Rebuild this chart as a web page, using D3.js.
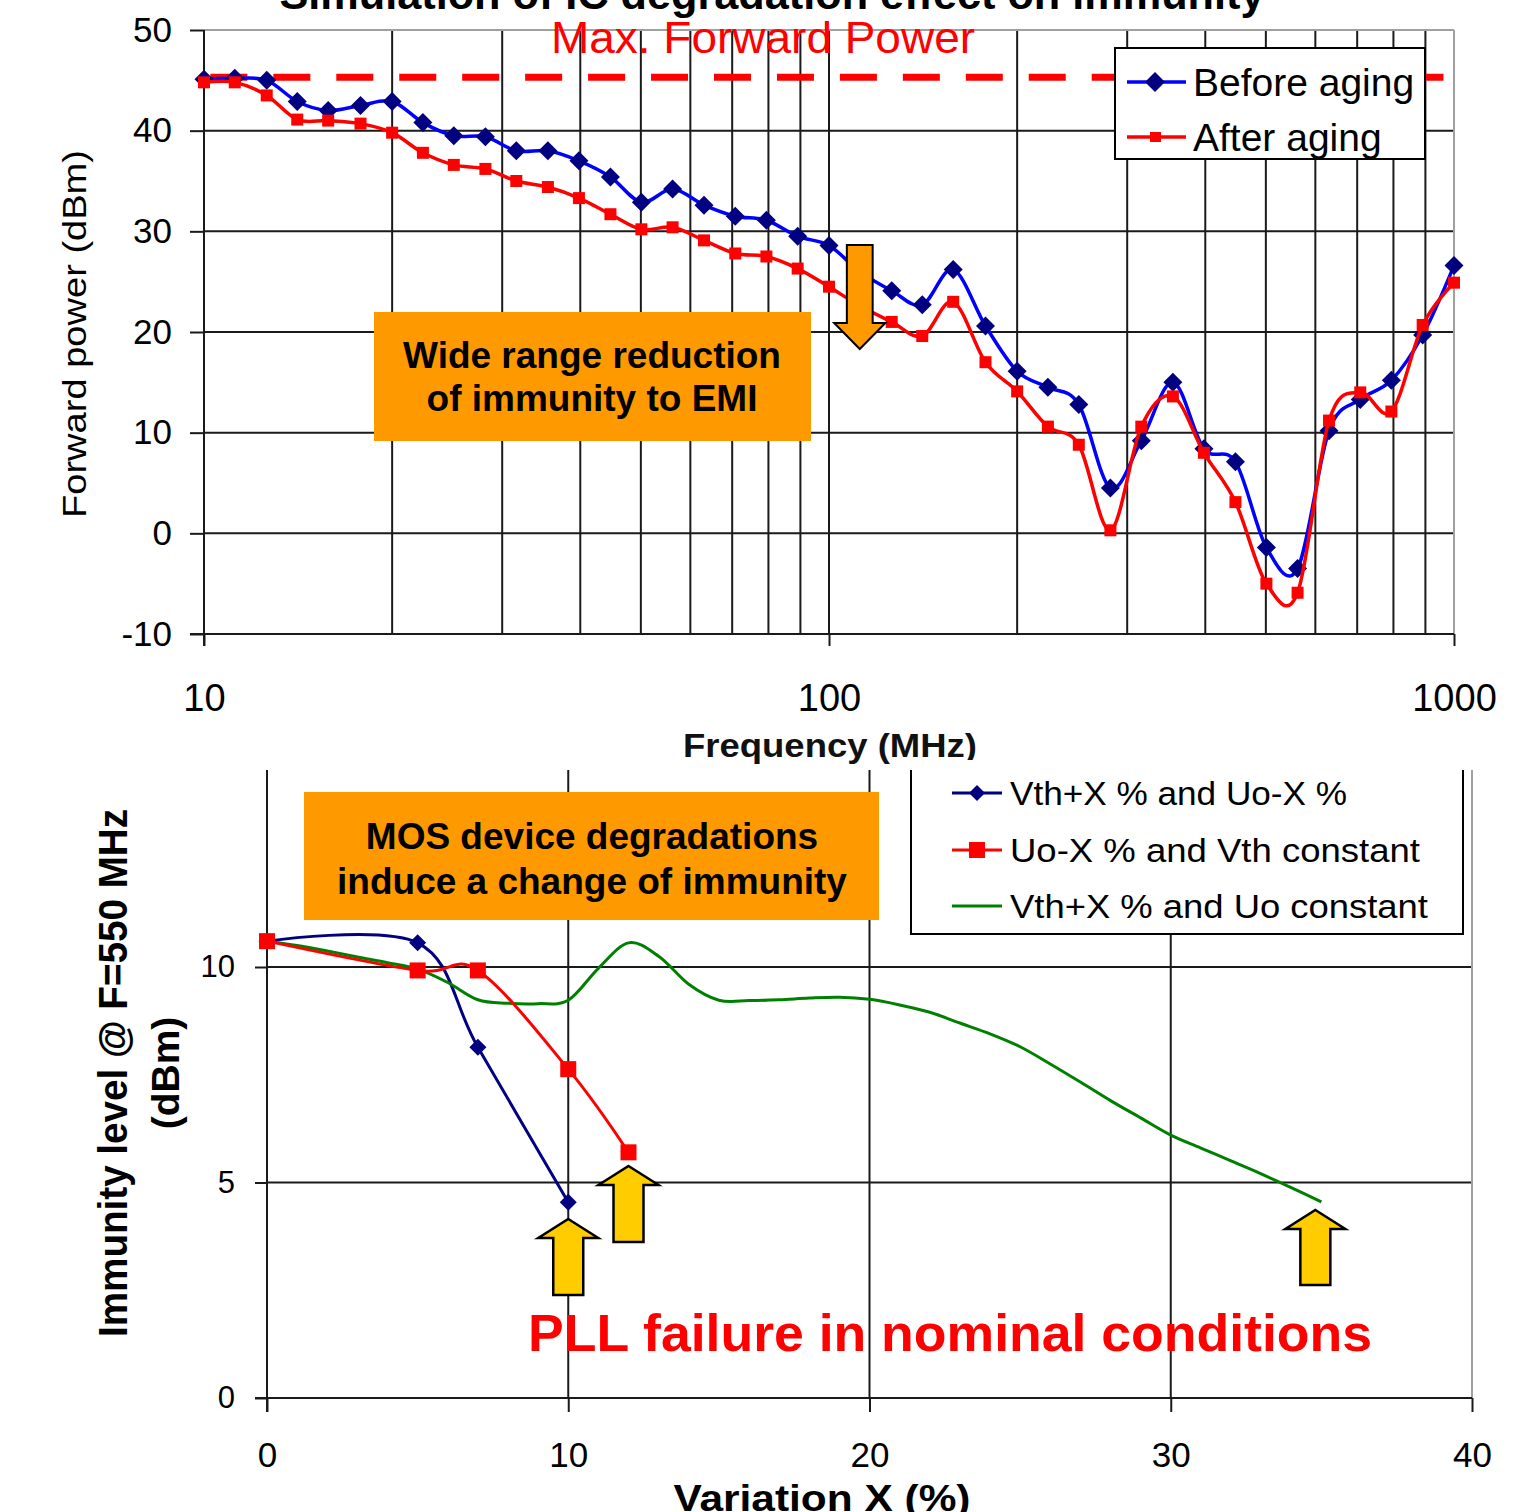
<!DOCTYPE html>
<html><head><meta charset="utf-8">
<script src="https://cdn.jsdelivr.net/npm/d3@7"></script>
<style>
body{margin:0;background:#fff}
svg{display:block}
text{font-family:"Liberation Sans",Arial,Helvetica,sans-serif}
</style>
</head><body>
<svg id="c" width="1533" height="1512"></svg>
<script>
// ---------- DATA: top chart ----------
const freqs = [10, 11.2, 12.6, 14.1, 15.8, 17.8, 20, 22.4, 25.1, 28.2, 31.6, 35.5, 39.8, 44.7, 50.1, 56.2, 63.1, 70.8, 79.4, 89.1,
  100, 112, 126, 141, 158, 178, 200, 224, 251, 282, 316, 355, 398, 447, 501, 562, 631, 708, 794, 891, 1000];
const beforeAging = [45.1, 45.2, 45.0, 42.9, 42.0, 42.5, 42.9, 40.8, 39.5, 39.4, 38.0, 38.0, 37.0, 35.4, 32.9, 34.2, 32.6, 31.5, 31.1, 29.5,
  28.6, 26.0, 24.1, 22.7, 26.2, 20.6, 16.1, 14.5, 12.8, 4.5, 9.2, 15.0, 8.4, 7.1, -1.4, -3.5, 10.2, 13.3, 15.2, 19.7, 26.6];
const afterAging = [44.8, 44.8, 43.5, 41.1, 41.0, 40.7, 39.8, 37.8, 36.6, 36.2, 35.0, 34.4, 33.3, 31.7, 30.2, 30.4, 29.1, 27.8, 27.5, 26.3,
  24.5, 22.6, 21.0, 19.6, 23.0, 17.0, 14.1, 10.6, 8.8, 0.3, 10.6, 13.6, 8.0, 3.1, -5.0, -5.9, 11.2, 14.0, 12.1, 20.7, 24.9];
const maxForwardPower = [45.3];
const topYTicks = [-10, 0, 10, 20, 30, 40, 50];
const topXTicks = [10, 100, 1000];
const topXGrid = [20, 30, 40, 50, 60, 70, 80, 90, 100, 200, 300, 400, 500, 600, 700, 800, 900];
const topSeriesNames = ["Before aging", "After aging"];

// ---------- DATA: bottom chart ----------
const xVthUo = [0, 5, 7, 10];
const yVthUo = [10.6, 10.56, 8.14, 4.54];
const xUo = [0, 5, 7, 10, 12];
const yUo = [10.6, 9.92, 9.92, 7.63, 5.7];
const xVth = [0, 1, 2, 3, 4, 5, 6, 7, 8, 9, 10, 11, 12, 13, 14, 15, 16, 17, 18, 19, 20, 21, 22, 23, 24, 25, 26, 27, 28, 29, 30, 31, 32, 33, 34, 35];
const yVth = [10.6, 10.5, 10.37, 10.23, 10.1, 9.95, 9.64, 9.24, 9.16, 9.15, 9.23, 9.97, 10.56, 10.25, 9.6, 9.23, 9.22, 9.24, 9.28, 9.3,
  9.25, 9.12, 8.95, 8.7, 8.45, 8.15, 7.75, 7.33, 6.9, 6.5, 6.1, 5.8, 5.5, 5.2, 4.88, 4.55];
const botXTicks = [0, 10, 20, 30, 40];
const botYTicks = [0, 5, 10];
const botSeriesNames = ["Vth+X% and Uo-X%", "Uo-X% and Vth constant", "Vth+X% and Uo constant"];
const failureX = [10, 12, 34.8];

// ---------- LAYOUT ----------
const svg = d3.select("#c");
const FONT = '"Liberation Sans",Arial,Helvetica,sans-serif';
const T = {l: 204, r: 1454, t: 30, b: 634};
const B = {l: 267, r: 1472, t: 770, b: 1398};

const xT = d3.scaleLog().domain([10, 1000]).range([T.l, T.r]);
const yT = d3.scaleLinear().domain([-10, 50]).range([T.b, T.t]);
const xB = d3.scaleLinear().domain([0, 40]).range([B.l, B.r]);
const yB = d3.scaleLinear().domain([0, 10]).range([B.b, 967]);

const smooth = d3.curveCardinal.tension(0);
const GRID = "#1a1a1a";
const diamond = r => `M0,${-r}L${r},0L0,${r}L${-r},0Z`;

// Title (cut off at the top)
svg.append("text").attr("x", 772).attr("y", 9).attr("text-anchor", "middle")
  .attr("font-size", 43).attr("font-weight", "bold").attr("fill", "#000")
  .attr("textLength", 985).attr("lengthAdjust", "spacingAndGlyphs")
  .text("Simulation of IC degradation effect on immunity");

// ====== TOP CHART ======
const gT = svg.append("g");
gT.selectAll("line.vg").data(topXGrid).join("line")
  .attr("x1", d => xT(d)).attr("x2", d => xT(d)).attr("y1", T.t).attr("y2", T.b)
  .attr("stroke", GRID).attr("stroke-width", 2);
gT.selectAll("line.hg").data(topYTicks.filter(d => d > -10 && d < 50)).join("line")
  .attr("x1", T.l).attr("x2", T.r).attr("y1", d => yT(d)).attr("y2", d => yT(d))
  .attr("stroke", GRID).attr("stroke-width", 2);
gT.append("line").attr("x1", T.l).attr("x2", T.r).attr("y1", T.t).attr("y2", T.t).attr("stroke", "#a0a0a0").attr("stroke-width", 2);
gT.append("line").attr("x1", T.r).attr("x2", T.r).attr("y1", T.t).attr("y2", T.b).attr("stroke", "#a0a0a0").attr("stroke-width", 2);

const axYT = gT.append("g").attr("transform", `translate(${T.l},0)`)
  .call(d3.axisLeft(yT).tickValues(topYTicks).tickSize(14).tickPadding(18).tickFormat(d => d < 0 ? "-" + Math.abs(d) : d));
const axXT = gT.append("g").attr("transform", `translate(0,${T.b})`)
  .call(d3.axisBottom(xT).tickValues(topXTicks).tickSize(12).tickPadding(38).tickFormat(d3.format("d")));
[axYT, axXT].forEach(a => {
  a.select(".domain").remove();
  a.selectAll(".tick line").attr("stroke", GRID).attr("stroke-width", 2);
  a.selectAll(".tick text").attr("fill", "#000").attr("font-family", FONT);
});
axYT.selectAll(".tick text").attr("font-size", 35);
axXT.selectAll(".tick text").attr("font-size", 38);
gT.append("line").attr("x1", T.l).attr("x2", T.l).attr("y1", T.t).attr("y2", T.b + 12).attr("stroke", GRID).attr("stroke-width", 2);
gT.append("line").attr("x1", T.l - 14).attr("x2", T.r).attr("y1", T.b).attr("y2", T.b).attr("stroke", GRID).attr("stroke-width", 2);

svg.append("text").attr("transform", "translate(86,334) rotate(-90)").attr("text-anchor", "middle")
  .attr("font-size", 34).attr("fill", "#000").attr("textLength", 368).attr("lengthAdjust", "spacingAndGlyphs")
  .text("Forward power (dBm)");
svg.append("text").attr("x", 830).attr("y", 757).attr("text-anchor", "middle")
  .attr("font-size", 33).attr("font-weight", "bold").attr("fill", "#111").attr("textLength", 294).attr("lengthAdjust", "spacingAndGlyphs")
  .text("Frequency (MHz)");

gT.selectAll("line.maxp").data(maxForwardPower).join("line")
  .attr("x1", 210.4).attr("x2", T.r).attr("y1", d => yT(d)).attr("y2", d => yT(d))
  .attr("stroke", "#ff0000").attr("stroke-width", 7).attr("stroke-dasharray", "37,25.95");
svg.append("text").attr("x", 763).attr("y", 53).attr("text-anchor", "middle")
  .attr("font-size", 45).attr("fill", "#ff0000").attr("textLength", 424).attr("lengthAdjust", "spacingAndGlyphs")
  .text("Max. Forward Power");

const lineT = vals => d3.line().x((d, i) => xT(freqs[i])).y(d => yT(d)).curve(smooth)(vals);
gT.append("path").attr("d", lineT(beforeAging)).attr("fill", "none").attr("stroke", "#0000ff").attr("stroke-width", 3.5);
gT.selectAll("path.bm").data(beforeAging).join("path").attr("class", "bm")
  .attr("transform", (d, i) => `translate(${xT(freqs[i])},${yT(d)})`).attr("d", diamond(9.5)).attr("fill", "#000080");
gT.append("path").attr("d", lineT(afterAging)).attr("fill", "none").attr("stroke", "#ff0000").attr("stroke-width", 3.5);
gT.selectAll("rect.am").data(afterAging).join("rect").attr("class", "am")
  .attr("x", (d, i) => xT(freqs[i]) - 6).attr("y", d => yT(d) - 6).attr("width", 12).attr("height", 12).attr("fill", "#ff0000");

// top legend
const lgT = svg.append("g");
lgT.append("rect").attr("x", 1115).attr("y", 48).attr("width", 310).attr("height", 111)
  .attr("fill", "#fff").attr("stroke", "#000").attr("stroke-width", 2);
const topLegY = [82, 137];
lgT.append("line").attr("x1", 1127).attr("x2", 1186).attr("y1", topLegY[0]).attr("y2", topLegY[0]).attr("stroke", "#0000ff").attr("stroke-width", 3.5);
lgT.append("path").attr("transform", `translate(1155,${topLegY[0]})`).attr("d", diamond(10)).attr("fill", "#000080");
lgT.append("line").attr("x1", 1127).attr("x2", 1186).attr("y1", topLegY[1]).attr("y2", topLegY[1]).attr("stroke", "#ff0000").attr("stroke-width", 3.5);
lgT.append("rect").attr("x", 1150).attr("y", topLegY[1] - 5).attr("width", 11).attr("height", 10).attr("fill", "#ff0000");
lgT.selectAll("text").data(topSeriesNames).join("text")
  .attr("x", 1193).attr("y", (d, i) => topLegY[i] + 14).attr("font-size", 39).attr("fill", "#000").text(d => d);

svg.append("rect").attr("x", 374).attr("y", 312).attr("width", 437).attr("height", 129).attr("fill", "#ff9900");
svg.append("text").attr("x", 592).attr("y", 368).attr("text-anchor", "middle").attr("font-size", 37).attr("font-weight", "bold").attr("fill", "#000").text("Wide range reduction");
svg.append("text").attr("x", 592).attr("y", 411).attr("text-anchor", "middle").attr("font-size", 37).attr("font-weight", "bold").attr("fill", "#000").text("of immunity to EMI");
{
  const cx = xT(112), top = 245, hb = 323, tip = 349, sw = 12.9, hw = 25.6;
  svg.append("path").attr("d", `M${cx - sw},${top}L${cx + sw},${top}L${cx + sw},${hb}L${cx + hw},${hb}L${cx},${tip}L${cx - hw},${hb}L${cx - sw},${hb}Z`)
    .attr("fill", "#ff9900").attr("stroke", "#000").attr("stroke-width", 2);
}

// ====== BOTTOM CHART ======
const gB = svg.append("g");
gB.selectAll("line.vg").data(botXTicks.filter(d => d > 0 && d < 40)).join("line")
  .attr("x1", d => xB(d)).attr("x2", d => xB(d)).attr("y1", B.t).attr("y2", B.b)
  .attr("stroke", GRID).attr("stroke-width", 2);
gB.selectAll("line.hg").data(botYTicks.filter(d => d > 0)).join("line")
  .attr("x1", B.l).attr("x2", B.r).attr("y1", d => yB(d)).attr("y2", d => yB(d))
  .attr("stroke", GRID).attr("stroke-width", 2);
gB.append("line").attr("x1", B.r).attr("x2", B.r).attr("y1", B.t).attr("y2", B.b).attr("stroke", "#a0a0a0").attr("stroke-width", 2);

const axYB = gB.append("g").attr("transform", `translate(${B.l},0)`)
  .call(d3.axisLeft(yB).tickValues(botYTicks).tickSize(12).tickPadding(20));
const axXB = gB.append("g").attr("transform", `translate(0,${B.b})`)
  .call(d3.axisBottom(xB).tickValues(botXTicks).tickSize(14).tickPadding(30));
[axYB, axXB].forEach(a => {
  a.select(".domain").remove();
  a.selectAll(".tick line").attr("stroke", GRID).attr("stroke-width", 2);
  a.selectAll(".tick text").attr("fill", "#000").attr("font-family", FONT);
});
axYB.selectAll(".tick text").attr("font-size", 31);
axXB.selectAll(".tick text").attr("font-size", 35);
gB.append("line").attr("x1", B.l).attr("x2", B.l).attr("y1", B.t).attr("y2", B.b + 14).attr("stroke", GRID).attr("stroke-width", 2);
gB.append("line").attr("x1", B.l - 12).attr("x2", B.r).attr("y1", B.b).attr("y2", B.b).attr("stroke", GRID).attr("stroke-width", 2);

svg.append("text").attr("transform", "translate(127,1073) rotate(-90)").attr("text-anchor", "middle")
  .attr("font-size", 40).attr("font-weight", "bold").attr("fill", "#000").attr("textLength", 528).attr("lengthAdjust", "spacingAndGlyphs")
  .text("Immunity level @ F=550 MHz");
svg.append("text").attr("transform", "translate(179,1073) rotate(-90)").attr("text-anchor", "middle")
  .attr("font-size", 39).attr("font-weight", "bold").attr("fill", "#000")
  .text("(dBm)");
svg.append("text").attr("x", 822).attr("y", 1511).attr("text-anchor", "middle")
  .attr("font-size", 36).attr("font-weight", "bold").attr("fill", "#000").attr("textLength", 297).attr("lengthAdjust", "spacingAndGlyphs")
  .text("Variation X (%)");

const lineB = (xs, ys) => d3.line().x((d, i) => xB(xs[i])).y(d => yB(d)).curve(smooth)(ys);
gB.append("path").attr("d", lineB(xVthUo, yVthUo)).attr("fill", "none").attr("stroke", "#000080").attr("stroke-width", 3);
gB.selectAll("path.m1").data(yVthUo).join("path").attr("class", "m1")
  .attr("transform", (d, i) => `translate(${xB(xVthUo[i])},${yB(d)})`).attr("d", diamond(8.5)).attr("fill", "#000080");
gB.append("path").attr("d", lineB(xVth, yVth)).attr("fill", "none").attr("stroke", "#008000").attr("stroke-width", 3);
gB.append("path").attr("d", lineB(xUo, yUo)).attr("fill", "none").attr("stroke", "#ff0000").attr("stroke-width", 3);
gB.selectAll("rect.m2").data(yUo).join("rect").attr("class", "m2")
  .attr("x", (d, i) => xB(xUo[i]) - 8).attr("y", d => yB(d) - 8).attr("width", 16).attr("height", 16).attr("fill", "#ff0000");

// bottom legend
const lgB = svg.append("g");
lgB.append("rect").attr("x", 911).attr("y", 760).attr("width", 552).attr("height", 174).attr("fill", "#fff");
lgB.append("path").attr("d", "M911,770L911,934L1463,934L1463,770").attr("fill", "none").attr("stroke", "#000").attr("stroke-width", 2);
const botLegY = [793, 850, 906];
const botCols = ["#000080", "#ff0000", "#008000"];
lgB.selectAll("line.s").data(botLegY).join("line")
  .attr("x1", 952).attr("x2", 1002).attr("y1", d => d).attr("y2", d => d)
  .attr("stroke", (d, i) => botCols[i]).attr("stroke-width", 3);
lgB.append("path").attr("transform", `translate(977,${botLegY[0]})`).attr("d", diamond(8)).attr("fill", "#000080");
lgB.append("rect").attr("x", 969).attr("y", botLegY[1] - 8).attr("width", 16).attr("height", 16).attr("fill", "#ff0000");
const legLens = [337, 410, 418];
lgB.selectAll("text").data(botSeriesNames).join("text")
  .attr("x", 1010).attr("y", (d, i) => botLegY[i] + 12).attr("font-size", 34).attr("fill", "#000")
  .attr("textLength", (d, i) => legLens[i]).attr("lengthAdjust", "spacingAndGlyphs")
  .text(d => d.replace(/X%/g, "X %"));

svg.append("rect").attr("x", 304).attr("y", 792).attr("width", 575).attr("height", 128).attr("fill", "#ff9900");
svg.append("text").attr("x", 592).attr("y", 849).attr("text-anchor", "middle").attr("font-size", 37).attr("font-weight", "bold").attr("fill", "#000").text("MOS device degradations");
svg.append("text").attr("x", 592).attr("y", 894).attr("text-anchor", "middle").attr("font-size", 37).attr("font-weight", "bold").attr("fill", "#000").text("induce a change of immunity");

const arrowTips = [1219, 1166, 1210];
const arrowBottoms = [1295, 1242, 1285];
failureX.forEach((xv, i) => {
  const cx = xB(xv), tip = arrowTips[i], hb = tip + 19, bot = arrowBottoms[i], sw = 15, hw = 30;
  svg.append("path").attr("d", `M${cx},${tip}L${cx + hw},${hb}L${cx + sw},${hb}L${cx + sw},${bot}L${cx - sw},${bot}L${cx - sw},${hb}L${cx - hw},${hb}Z`)
    .attr("fill", "#ffcc00").attr("stroke", "#000").attr("stroke-width", 2.5);
});

svg.append("text").attr("x", 528).attr("y", 1351).attr("font-size", 52).attr("font-weight", "bold").attr("fill", "#ff0000")
  .attr("textLength", 844).attr("lengthAdjust", "spacingAndGlyphs")
  .text("PLL failure in nominal conditions");
</script>
</body></html>
